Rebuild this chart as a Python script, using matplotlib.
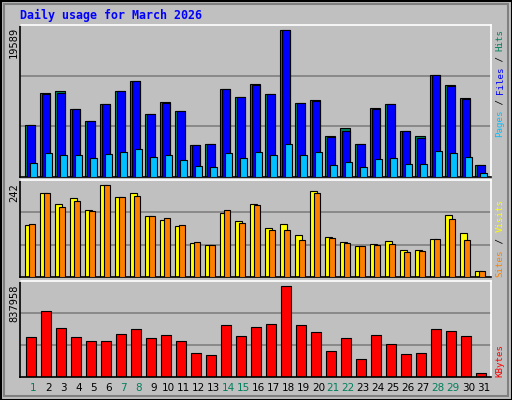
import matplotlib
matplotlib.use("Agg")
import matplotlib.pyplot as plt
from matplotlib.patches import Rectangle
import numpy as np

days = list(range(1, 32))
weekend = [1, 7, 8, 14, 15, 21, 22, 28, 29]

hits = [6958, 11213, 11390, 9086, 7490, 9750, 11390, 12720, 8421, 10016, 8820, 4299, 4432, 11745, 10681,
        12410, 11080, 19589, 9883, 10194, 5496, 6471, 4432, 9219, 9750, 6160, 5407, 13606, 12277, 10548, 1640]
files = [6958, 11080, 11213, 9086, 7490, 9750, 11390, 12720, 8421, 9883, 8820, 4299, 4432, 11745, 10681,
         12277, 11080, 19589, 9883, 10061, 5363, 6160, 4432, 9086, 9750, 6160, 5230, 13606, 12144, 10415, 1640]
pages = [1906, 3235, 2969, 2969, 2571, 3102, 3368, 3767, 2704, 2969, 2305, 1507, 1374, 3235, 2571,
         3368, 2969, 4432, 2969, 3368, 1640, 2039, 1374, 2438, 2571, 1773, 1773, 3501, 3235, 2704, 576]
visits = [137, 221, 192, 208, 176, 242, 210, 221, 160, 150, 134, 89, 84, 168, 147,
          192, 129, 139, 110, 226, 105, 92, 82, 87, 95, 71, 71, 100, 163, 116, 16]
sites = [139, 221, 184, 200, 174, 242, 210, 213, 160, 155, 137, 92, 84, 176, 142,
         189, 124, 124, 97, 221, 103, 89, 82, 84, 87, 66, 68, 100, 153, 97, 16]
kbytes = [370000, 608500, 452600, 370000, 333300, 333300, 397500, 443400, 360800, 388400, 333300, 223200,
          204900, 480100, 379200, 461800, 489300, 837958, 480100, 415900, 241600, 360800, 168200, 388400,
          305800, 214100, 223200, 443400, 425100, 379200, 39800]

W, H = 512, 400
BG = "#C0C0C0"
GREEN = "#00805C"
MONO = "DejaVu Sans Mono"

fig = plt.figure(figsize=(W / 100, H / 100), dpi=100, facecolor=BG)

def px_axes(top, bottom):
    return fig.add_axes([20 / W, 1 - bottom / H, 471 / W, (bottom - top) / H], facecolor=BG)

x0 = np.arange(31) + 0.353

def style(ax, ymax):
    ax.set_xlim(0, 31.4)
    ax.set_ylim(0, ymax)
    for f in (1 / 3, 2 / 3):
        ax.axhline(ymax * f, color="#808080", lw=1.2, zorder=0)
    ax.set_xticks([])
    ax.set_yticks([])
    for s in ("left", "bottom"):
        ax.spines[s].set_color("black")
    for s in ("top", "right"):
        ax.spines[s].set_color("white")
    for s in ax.spines.values():
        s.set_linewidth(1.2)

# top: hits / files / pages
ax1 = px_axes(25, 177)
style(ax1, 19589 * 152 / 147.4)
ax1.bar(x0, hits, width=0.62, align="edge", color=GREEN, edgecolor="black", lw=0.8, zorder=2)
ax1.bar(x0 + 0.13, files, width=0.49, align="edge", color="#0000FF", edgecolor="black", lw=0.8, zorder=3)
ax1.bar(x0 + 0.29, pages, width=0.47, align="edge", color="#00C0FF", edgecolor="black", lw=0.8, zorder=4)

# middle: visits / sites
ax2 = px_axes(180, 277)
style(ax2, 242 * 97 / 92)
ax2.bar(x0, visits, width=0.45, align="edge", color="#FFFF00", edgecolor="black", lw=0.8, zorder=2)
ax2.bar(x0 + 0.27, sites, width=0.37, align="edge", color="#FF8000", edgecolor="black", lw=0.8, zorder=3)

# bottom: kbytes
ax3 = px_axes(281, 377)
style(ax3, 837958 * 96 / 91.4)
ax3.bar(x0 + 0.07, kbytes, width=0.67, align="edge", color="#FF0000", edgecolor="black", lw=0.8, zorder=2)

# max labels on the left
for ax, lab, top in ((ax1, "19589", 27), (ax2, "242", 183), (ax3, "837958", 284)):
    fig.text(14 / W, 1 - top / H, lab, rotation=90, ha="center", va="top",
             family=MONO, fontsize=7.5, color="black")

# right legends, built from coloured pieces
def legend(pieces, bottom, cw=5.4):
    i = 0
    for txt, col in pieces:
        fig.text(500 / W, 1 - (bottom - i * cw) / H, txt, rotation=90, ha="center", va="bottom",
                 family=MONO, fontsize=6.6, color=col)
        i += len(txt)

legend([("Pages", "#00C0FF"), (" / ", "black"), ("Files", "#0000FF"), (" / ", "black"), ("Hits", GREEN)], 137)
legend([("Sites", "#FF8000"), (" / ", "black"), ("Visits", "#FFFF00")], 277, 5.6)
legend([("KBytes", "#FF0000")], 377, 6.0)

# day labels
for i, d in enumerate(days):
    fig.text((20 + (i + 0.89) * 15) / W, 1 - 388 / H, str(d), ha="center", va="center",
             fontsize=7.5, family="DejaVu Sans", color=GREEN if d in weekend else "black")

fig.text(20 / W, 1 - 15 / H, "Daily usage for March 2026", ha="left", va="center",
         family=MONO, fontweight="bold", fontsize=8.4, color="#0000FF")

# outer frame and bevel
fig.patches.append(Rectangle((0.5 / W, 0.5 / H), (W - 1) / W, (H - 1) / H, transform=fig.transFigure,
                             fill=False, edgecolor="black", lw=1.5))
fig.patches.append(Rectangle((4 / W, 4 / H), (W - 8) / W, (H - 8) / H, transform=fig.transFigure,
                             fill=False, edgecolor="#808080", lw=1.5))

fig.savefig("out.png", dpi=100, facecolor=BG)
